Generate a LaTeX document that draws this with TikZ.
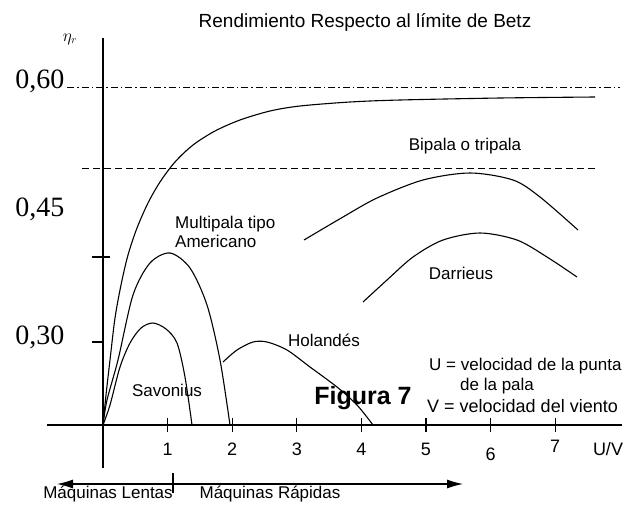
\documentclass[tikz,border=0pt]{standalone}
\usepackage{fontspec}
\setmainfont{Liberation Sans}
\newfontfamily\numfont{Liberation Serif}
\usetikzlibrary{arrows.meta}

\tikzset{
    curve/.style={black, line width=1.1pt},
    lbl/.style={font=\fontsize{17}{19}\selectfont, inner sep=0pt},
    ticklbl/.style={font=\fontsize{18}{20}\selectfont, inner sep=0pt},
    ylbl/.style={font=\numfont\fontsize{28}{30}\selectfont, inner sep=0pt},
}

\begin{document}
\begin{tikzpicture}[x=1pt, y=-1pt]
    \useasboundingbox (0,0) rectangle (627,504);

    % axes
    \coordinate (O) at (103,425);
    \draw[line width=1.1pt] (47,425) -- (622,425);
    \draw[line width=1.1pt] (103,38) -- (103,468);
    \node [inner sep=0pt, font=\fontsize{16}{18}\selectfont] (eta) at (70,39) {$\eta_r$};
    \node [font=\fontsize{19}{21}\selectfont] (title) at (365,22) {Rendimiento Respecto al límite de Betz};

    % limit lines
    \draw[line width=0.9pt, dash pattern=on 7pt off 3pt on 1.5pt off 3pt] (67,87) -- (620,87);
    \draw[line width=0.9pt, dash pattern=on 7pt off 4pt] (82,168) -- (596,168);
    \node [ylbl] (y60) at (40,81) {0,60};
    \node [ylbl] (y45) at (40,209) {0,45};
    \node [ylbl] (y30) at (40,337) {0,30};
    \draw[line width=1.1pt] (92,257) -- (110,257);
    \draw[line width=1.1pt] (92,342) -- (103,342);

    % x ticks
    \foreach \k/\ly in {1/449, 2/449, 3/449, 4/449, 5/449, 6/454, 7/446} {
        \draw[line width=1.1pt] ({103+64.6*\k},418) -- ({103+64.6*\k},432);
        \node [ticklbl] (t\k) at ({103+64.6*\k},\ly) {\k};
    }
    \node [ticklbl] (uv) at (608,449) {U/V};

    % curves
    \draw[curve] plot[smooth] coordinates {(103,425) (106,395) (110,360) (115,318) (121,285) (128,255) (137,228) (148,203) (160,182) (175,162) (193,145) (215,131) (240,120) (270,111) (300,106) (350,102) (400,100) (500,98) (595,97)};
    \draw[curve] plot[smooth] coordinates {(103,425) (107,400) (118,360) (133,295) (150,263) (170,253) (190,268) (207,305) (220,360) (230,425)};
    \draw[curve] plot[smooth] coordinates {(103,425) (110,405) (120,367) (130,343) (141,328) (153,323) (166,329) (177,343) (185,377) (192,425)};
    \draw[curve] plot[smooth] coordinates {(223,362) (237,350) (253,342) (267,342) (287,350) (310,367) (337,387) (357,405) (373,425)};
    \draw[curve] plot[smooth] coordinates {(304,240) (343,217) (377,198) (423,180) (470,173) (513,180) (540,197) (578,230)};
    \draw[curve] plot[smooth] coordinates {(363,302) (387,280) (413,257) (443,240) (480,233) (517,240) (547,257) (577,277)};

    % curve names
    \node [lbl, anchor=west, align=left] (multi) at (175,232) {Multipala tipo\\Americano};
    \node [lbl] (bipala) at (465,146) {Bipala o tripala};
    \node [lbl] (darr) at (461,273) {Darrieus};
    \node [lbl] (holand) at (324,340) {Holandés};
    \node [lbl] (savon) at (167,390) {Savonius};

    % legend
    \node [lbl, anchor=west] (uleg) at (429,366) {U = velocidad de la punta};
    \node [lbl, anchor=west] (pala) at (460,386) {de la pala};
    \node [lbl, anchor=west, font=\fontsize{18}{20}\selectfont] (vleg) at (427,406) {V = velocidad del viento};
    \node [font=\bfseries\fontsize{25}{27}\selectfont, inner sep=0pt] (fig) at (363,398) {Figura 7};

    % slow / fast machines
    \coordinate (split) at (173,484);
    \coordinate (slowend) at (57,484);
    \coordinate (fastend) at (463,484);
    \draw[line width=1.1pt, -{Latex[length=16pt, width=9pt]}] (split) -- (slowend);
    \draw[line width=1.1pt, -{Latex[length=16pt, width=9pt]}] (split) -- (fastend);
    \draw[line width=1.1pt] (173,473) -- (173,493);
    \node [lbl] (slow) at (108,494) {Máquinas Lentas};
    \node [lbl] (fast) at (270,494) {Máquinas Rápidas};
\end{tikzpicture}
\end{document}
